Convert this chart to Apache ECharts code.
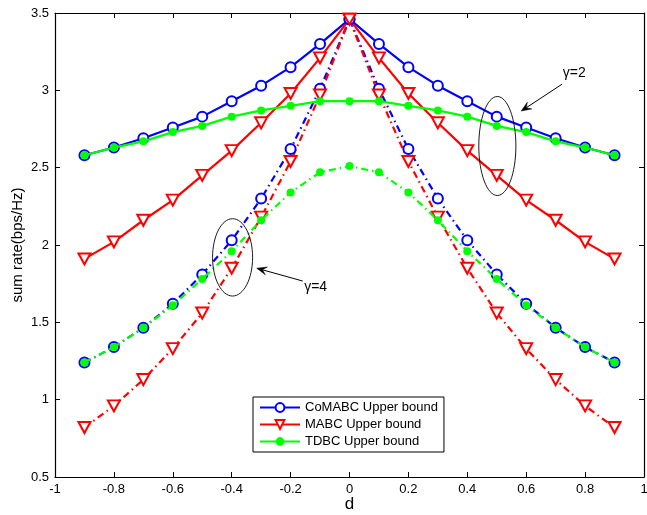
<!DOCTYPE html>
<html>
<head>
<meta charset="utf-8">
<script src="https://cdn.jsdelivr.net/npm/echarts@6/dist/echarts.min.js"></script>
<style>html,body{margin:0;padding:0;background:#fff}#c{width:647px;height:515px}</style>
</head>
<body>
<div id="c"></div>
<script>
const dValues = [-0.9,-0.8,-0.7,-0.6,-0.5,-0.4,-0.3,-0.2,-0.1,0,0.1,0.2,0.3,0.4,0.5,0.6,0.7,0.8,0.9];
// gamma = 2 (solid)
const comabcG2 = [2.58,2.63,2.69,2.76,2.83,2.93,3.03,3.15,3.30,3.46,3.30,3.15,3.03,2.93,2.83,2.76,2.69,2.63,2.58];
const mabcG2   = [1.91,2.02,2.16,2.29,2.45,2.61,2.79,2.98,3.21,3.46,3.21,2.98,2.79,2.61,2.45,2.29,2.16,2.02,1.91];
const tdbcG2   = [2.58,2.63,2.67,2.73,2.77,2.83,2.87,2.90,2.93,2.93,2.93,2.90,2.87,2.83,2.77,2.73,2.67,2.63,2.58];
// gamma = 4 (dash-dot)
const comabcG4 = [1.24,1.34,1.465,1.62,1.81,2.03,2.30,2.62,3.01,3.46,3.01,2.62,2.30,2.03,1.81,1.62,1.465,1.34,1.24];
const mabcG4   = [0.82,0.96,1.13,1.33,1.56,1.85,2.18,2.54,2.97,3.46,2.97,2.54,2.18,1.85,1.56,1.33,1.13,0.96,0.82];
const tdbcG4   = [1.24,1.34,1.465,1.61,1.78,1.96,2.16,2.34,2.47,2.51,2.47,2.34,2.16,1.96,1.78,1.61,1.465,1.34,1.24];
const seriesNames = ['CoMABC Upper bound','MABC Upper bound','TDBC Upper bound'];
const xTickMin = -1, xTickMax = 1, xTickStep = 0.2;
const yTickMin = 0.5, yTickMax = 3.5, yTickStep = 0.5;

const FONT = '"Liberation Sans", Arial, Helvetica, sans-serif';
const pairs = arr => dValues.map((x,i)=>[x, arr[i]]);
const dashDot = [7,4,1.5,4];

function mk(name, arr, kind, dashed){
  const s = {
    name, type:'line', data:pairs(arr), xAxisIndex:0, yAxisIndex:0,
    lineStyle:{width:2.2, type: dashed ? dashDot : 'solid'},
    animation:false, z: kind==='tdbc'?4:3
  };
  if(kind==='co'){
    s.color='#0000ff'; s.symbol='circle'; s.symbolSize=10;
    s.itemStyle={color:'#ffffff', borderColor:'#0000ff', borderWidth:2};
    s.lineStyle.color='#0000ff';
  } else if(kind==='mabc'){
    s.color='#ff0000'; s.symbol='triangle'; s.symbolRotate=180; s.symbolSize=[12,11];
    s.itemStyle={color:'#ffffff', borderColor:'#ff0000', borderWidth:2};
    s.lineStyle.color='#ff0000';
  } else {
    s.color='#00ff00'; s.symbol='circle'; s.symbolSize=8;
    s.itemStyle={color:'#00ff00', borderColor:'#00ff00', borderWidth:0};
    s.lineStyle.color='#00ff00';
  }
  return s;
}

const chart = echarts.init(document.getElementById('c'), null, {renderer:'canvas'});
const fmt = v => String(Number(v.toFixed(1)));
const axisCommon = {
  axisLine:{show:true, onZero:false, lineStyle:{color:'#000', width:1.2}},
  axisTick:{show:true, inside:true, length:5, lineStyle:{color:'#000'}},
  splitLine:{show:false}
};
const option = {
  backgroundColor:'#fff',
  animation:false,
  grid:{left:55, right:3, top:13, bottom:38, containLabel:false, outerBoundsMode:'none'},
  xAxis:[
    Object.assign({type:'value', min:xTickMin, max:xTickMax, interval:xTickStep, position:'bottom',
      name:'d', nameLocation:'middle', nameGap:19, nameMoveOverlap:false,
      nameTextStyle:{fontSize:17, color:'#000', fontFamily:FONT},
      axisLabel:{formatter:fmt, fontSize:13, color:'#000', fontFamily:FONT, margin:6}}, axisCommon),
    Object.assign({type:'value', min:xTickMin, max:xTickMax, interval:xTickStep, position:'top',
      axisLabel:{show:false}}, axisCommon)
  ],
  yAxis:[
    Object.assign({type:'value', min:yTickMin, max:yTickMax, interval:yTickStep, position:'left',
      name:'sum rate(bps/Hz)', nameLocation:'middle', nameGap:30, nameRotate:90, nameMoveOverlap:false,
      nameTextStyle:{fontSize:15, color:'#000', fontFamily:FONT},
      axisLabel:{formatter:fmt, fontSize:13, color:'#000', fontFamily:FONT, margin:6}}, axisCommon),
    Object.assign({type:'value', min:yTickMin, max:yTickMax, interval:yTickStep, position:'right',
      axisLabel:{show:false}}, axisCommon)
  ],
  legend:{
    data:seriesNames, orient:'vertical', left:253, top:397,
    backgroundColor:'#fff', borderColor:'#000', borderWidth:1,
    padding:[4,6,4,6], itemGap:4, itemWidth:40, itemHeight:11,
    textStyle:{fontSize:13, color:'#000', fontFamily:FONT},
    selectedMode:false
  },
  series:[
    mk(seriesNames[0], comabcG2, 'co', false),
    mk(seriesNames[1], mabcG2, 'mabc', false),
    mk(seriesNames[2], tdbcG2, 'tdbc', false),
    mk(seriesNames[0], comabcG4, 'co', true),
    mk(seriesNames[1], mabcG4, 'mabc', true),
    mk(seriesNames[2], tdbcG4, 'tdbc', true)
  ]
};
chart.setOption(option);

// Annotations (in data coordinates)
const annotations = [
  {ellipse:[0.502,2.64,0.063,0.32], text:'γ=2', textAt:[0.763,3.11], arrowFrom:[0.722,3.04], arrowTo:[0.583,2.866]},
  {ellipse:[-0.397,1.92,0.068,0.25], text:'γ=4', textAt:[-0.115,1.728], arrowFrom:[-0.159,1.767], arrowTo:[-0.315,1.85]}
];
const P = p => chart.convertToPixel({xAxisIndex:0, yAxisIndex:0}, p);
const graphics = [];
annotations.forEach(a=>{
  const c = P([a.ellipse[0], a.ellipse[1]]);
  const e = P([a.ellipse[0]+a.ellipse[2], a.ellipse[1]+a.ellipse[3]]);
  graphics.push({type:'ellipse', z:10, shape:{cx:c[0], cy:c[1], rx:Math.abs(e[0]-c[0]), ry:Math.abs(e[1]-c[1])},
    style:{fill:null, stroke:'#000', lineWidth:0.9}});
  const t = P(a.textAt);
  graphics.push({type:'text', z:10, x:t[0], y:t[1], style:{text:a.text, fill:'#000', font:'14px '+FONT, align:'center', verticalAlign:'middle'}});
  const f = P(a.arrowFrom), to = P(a.arrowTo);
  const ang = Math.atan2(to[1]-f[1], to[0]-f[0]);
  const L = 10, W = 4;
  const bx = to[0]-L*Math.cos(ang), by = to[1]-L*Math.sin(ang);
  const nx = -Math.sin(ang), ny = Math.cos(ang);
  const mx = to[0]-0.6*L*Math.cos(ang), my = to[1]-0.6*L*Math.sin(ang);
  graphics.push({type:'line', z:10, shape:{x1:f[0], y1:f[1], x2:mx, y2:my}, style:{stroke:'#000', lineWidth:1}});
  graphics.push({type:'polygon', z:10, shape:{points:[[to[0],to[1]],[bx+nx*W,by+ny*W],[mx,my],[bx-nx*W,by-ny*W]]},
    style:{fill:'#000', stroke:'#000', lineWidth:0.5}});
});
chart.setOption({graphic:graphics});
</script>
</body>
</html>
